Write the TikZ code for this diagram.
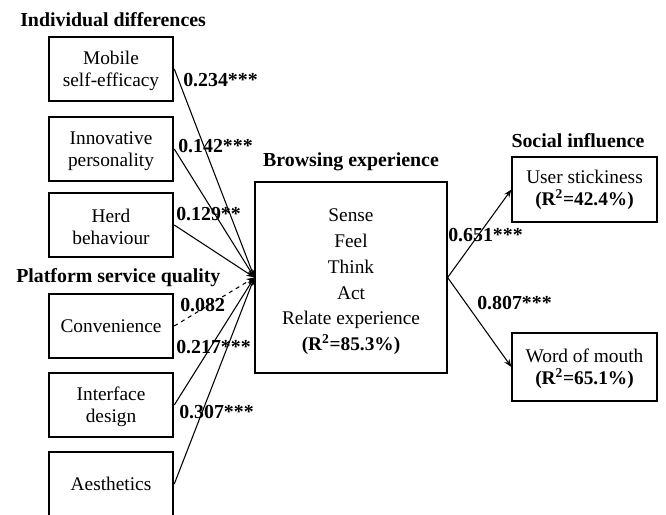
\documentclass[tikz,border=0pt]{standalone}
\usepackage{fontspec}
\setmainfont{Liberation Serif}
\usetikzlibrary{arrows.meta,positioning}
\newcommand{\lowr}[1]{\rule{0pt}{#1}}

\begin{document}
\begin{tikzpicture}[
  x=0.75pt, y=-0.75pt,
  font=\fontsize{14.5}{16.5}\selectfont,
  leftbox/.style={rectangle, draw=black, line width=1.9pt, align=center, minimum width=93pt, minimum height=48pt, inner sep=2pt},
  rightbox/.style={rectangle, draw=black, line width=0.9pt, align=center, minimum width=108.75pt, minimum height=48.75pt, inner sep=2pt},
  mainbox/.style={rectangle, draw=black, line width=0.9pt, align=center, minimum width=144pt, minimum height=143.25pt, font=\fontsize{14.5}{19.4}\selectfont},
  title/.style={font=\fontsize{14.9}{18}\selectfont\bfseries, inner sep=0pt},
  coef/.style={font=\fontsize{14.9}{18}\selectfont\bfseries, inner sep=0pt, anchor=west},
  arrow/.style={-{Stealth[length=6pt,width=4.5pt]}, line width=0.8pt}
]
\useasboundingbox (0,0) rectangle (666,514);

\node[title, anchor=west] (indiv) at (20,20) {Individual differences};
\node[title, anchor=west] (platf) at (16,278) {Platform service quality};

\node[leftbox] (mse) at (111,69) {\lowr{13pt}Mobile\\self-efficacy};
\node[leftbox] (inno) at (111,149) {\lowr{13pt}Innovative\\personality};
\node[leftbox] (herd) at (111,225) {\lowr{13pt}Herd\\behaviour};
\node[leftbox] (conv) at (111,326) {Convenience};
\node[leftbox] (intf) at (111,405) {\lowr{13pt}Interface\\design};
\node[leftbox] (aest) at (111,484) {Aesthetics};

\node[mainbox] (be) at (351,277.5) {\lowr{16pt}Sense\\Feel\\Think\\Act\\Relate experience\\\textbf{(R\textsuperscript{2}=85.3\%)}};
\node[title] (betitle) at (351,162) {Browsing experience};

\node[rightbox] (us) at (584.5,189.5) {User stickiness\\\textbf{(R\textsuperscript{2}=42.4\%)}};
\node[rightbox, minimum height=51pt] (wom) at (584.5,367) {\lowr{13pt}Word of mouth\\\textbf{(R\textsuperscript{2}=65.1\%)}};
\node[title] (social) at (578,141) {Social influence};

\draw[arrow] (mse.east) -- (be.west);
\draw[arrow] (inno.east) -- (be.west);
\draw[arrow] (herd.east) -- (be.west);
\draw[arrow, dashed] (conv.east) -- (be.west);
\draw[arrow] (intf.east) -- (be.west);
\draw[arrow] (aest.east) -- (be.west);
\draw[arrow] (be.east) -- (us.west);
\draw[arrow] (be.east) -- (wom.west);

\node[coef] (c1) at (183,80) {0.234***};
\node[coef] (c2) at (178,146) {0.142***};
\node[coef] (c3) at (176,214) {0.129**};
\node[coef] (c4) at (180,305) {0.082};
\node[coef] (c5) at (176,347) {0.217***};
\node[coef] (c6) at (179,412) {0.307***};
\node[coef] (c7) at (448,235) {0.651***};
\node[coef] (c8) at (477,303) {0.807***};

\end{tikzpicture}
\end{document}
